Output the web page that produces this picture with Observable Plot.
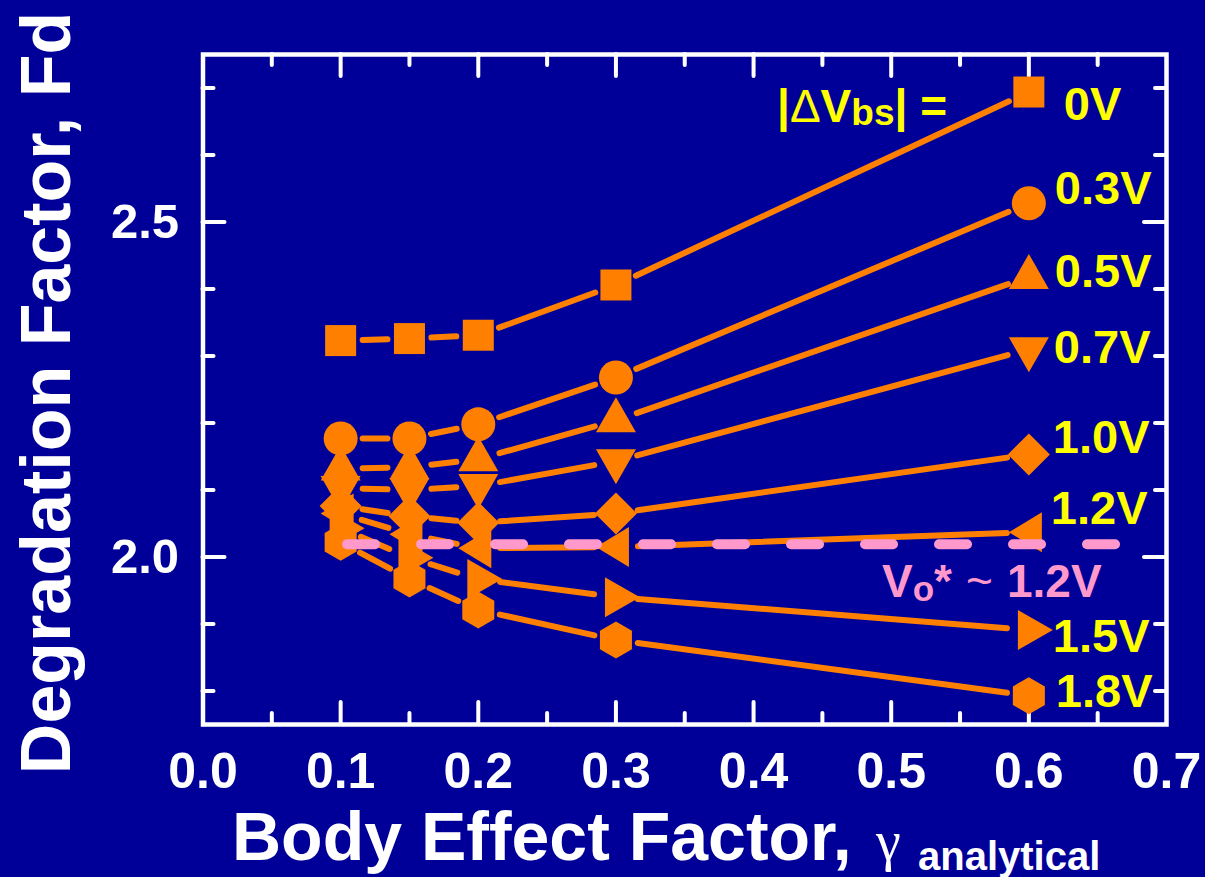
<!DOCTYPE html>
<html><head><meta charset="utf-8">
<script src="https://cdn.jsdelivr.net/npm/d3@7"></script>
<script src="https://cdn.jsdelivr.net/npm/@observablehq/plot@0.6"></script>
<style>
html,body{margin:0;padding:0;background:#000099;}
#chart{width:1205px;height:877px;}
</style>
</head><body><div id="chart"></div>
<script>
// ---------- data ----------
const gammaValues = [0.1, 0.15, 0.2, 0.3, 0.6];
const biasLabels = ["0V", "0.3V", "0.5V", "0.7V", "1.0V", "1.2V", "1.5V", "1.8V"];
const fd_0V  = [2.323, 2.326, 2.331, 2.406, 2.694];
const fd_03V = [2.177, 2.177, 2.198, 2.268, 2.528];
const fd_05V = [2.132, 2.134, 2.146, 2.204, 2.418];
const fd_07V = [2.103, 2.100, 2.106, 2.143, 2.310];
const fd_10V = [2.076, 2.061, 2.051, 2.065, 2.153];
const fd_12V = [2.065, 2.034, 2.013, 2.015, 2.037];
const fd_15V = [2.043, 1.999, 1.967, 1.940, 1.891];
const fd_18V = [2.022, 1.967, 1.921, 1.876, 1.793];
const labelFd = [2.674, 2.549, 2.426, 2.312, 2.177, 2.071, 1.881, 1.799];
const vStarFd = 2.019;
const vStarGammaRange = [0.105, 0.663];
const xTickValues = [0.0, 0.1, 0.2, 0.3, 0.4, 0.5, 0.6, 0.7];
const xMajorTicks = [0.1, 0.2, 0.3, 0.4, 0.5, 0.6];
const xMinorTicks = [0.05, 0.15, 0.25, 0.35, 0.45, 0.55, 0.65];
const yTickValues = [2.0, 2.5];
const yMinorTicks = [1.8, 1.9, 2.1, 2.2, 2.3, 2.4, 2.6, 2.7];

// ---------- styles ----------
const ORANGE = "#FF8000", YELLOW = "#FFFF00", PINK = "#FF99CC", BG = "#000099";
const FONT = "'Liberation Sans', Arial, Helvetica, sans-serif";

const poly = (pts) => ({draw(ctx) {
  ctx.moveTo(pts[0][0], pts[0][1]);
  for (let i = 1; i < pts.length; i++) ctx.lineTo(pts[i][0], pts[i][1]);
  ctx.closePath();
}});
const symSquare = poly([[-15.5,-15.5],[15.5,-15.5],[15.5,15.5],[-15.5,15.5]]);
const symCircle = {draw(ctx) { ctx.moveTo(17, 0); ctx.arc(0, 0, 17, 0, 2 * Math.PI); ctx.closePath(); }};
const symTriUp = poly([[0,-23],[20,12],[-20,12]]);
const symTriDown = poly([[0,23],[20,-12],[-20,-12]]);
const symDiamond = poly([[0,-21],[21,0],[0,21],[-21,0]]);
const symTriLeft = poly([[-20,0],[13,-20],[13,20]]);
const symTriRight = poly([[24,0],[-11,-20],[-11,20]]);
const symHexagon = poly([[0,-18.5],[16,-9.25],[16,9.25],[0,18.5],[-16,9.25],[-16,-9.25]]);

const seriesValues = [fd_0V, fd_03V, fd_05V, fd_07V, fd_10V, fd_12V, fd_15V, fd_18V];
const seriesSymbols = [symSquare, symCircle, symTriUp, symTriDown, symDiamond, symTriLeft, symTriRight, symHexagon];
const labelDx = [35, 26, 26, 25, 24, 22, 24, 27];

const series = biasLabels.map((label, i) => ({
  label, symbol: seriesSymbols[i],
  points: gammaValues.map((g, j) => ({gamma: g, fd: seriesValues[i][j]}))
}));
const segments = series.flatMap(s => s.points.slice(0, -1).map((p, j) => ({
  x1: p.gamma, y1: p.fd, x2: s.points[j + 1].gamma, y2: s.points[j + 1].fd
})));
const labels = biasLabels.map((label, i) => ({label, gamma: gammaValues[gammaValues.length - 1], fd: labelFd[i], dx: labelDx[i]}));

const W = 1205, H = 877;
const mL = 202.5, mR = 39, mT = 54, mB = 153;
const innerW = W - mL - mR, innerH = H - mT - mB;
const MAJ = 22, MIN = 11;

const tickStyle = {stroke: "white", strokeWidth: 4, strokeLinecap: "round"};

const marks = [
  // inward ticks
  Plot.tickX(xMajorTicks, {x: d => d, insetTop: innerH - MAJ, ...tickStyle}),
  Plot.tickX(xMinorTicks, {x: d => d, insetTop: innerH - MIN, ...tickStyle}),
  Plot.tickX(xMajorTicks, {x: d => d, insetBottom: innerH - MAJ, ...tickStyle}),
  Plot.tickX(xMinorTicks, {x: d => d, insetBottom: innerH - MIN, ...tickStyle}),
  Plot.tickY(yTickValues, {y: d => d, insetRight: innerW - MAJ, ...tickStyle}),
  Plot.tickY(yMinorTicks, {y: d => d, insetRight: innerW - MIN, ...tickStyle}),
  Plot.tickY(yTickValues, {y: d => d, insetLeft: innerW - MAJ, ...tickStyle}),
  Plot.tickY(yMinorTicks, {y: d => d, insetLeft: innerW - MIN, ...tickStyle}),
  Plot.frame({stroke: "white", strokeWidth: 4.5}),
  // tick labels
  Plot.axisX(xTickValues, {anchor: "bottom", tickSize: 0, tickPadding: 28, tickFormat: d3.format(".1f"),
    fontSize: 50, fontWeight: "bold", fill: "white", label: null}),
  Plot.axisY(yTickValues, {anchor: "left", tickSize: 0, tickPadding: 24, tickFormat: d3.format(".1f"),
    fontSize: 49, fontWeight: "bold", fill: "white", label: null}),
  // connecting segments (gapped)
  Plot.arrow(segments, {x1: "x1", y1: "y1", x2: "x2", y2: "y2", stroke: ORANGE, strokeWidth: 6,
    headLength: 0, insetStart: 22, insetEnd: 22, strokeLinecap: "round"}),
  // markers (last series first so upper series sit on top)
  ...series.slice().reverse().map(s => Plot.dot(s.points, {x: "gamma", y: "fd", r: 10, symbol: s.symbol, fill: ORANGE, stroke: "none"})),
  // V* threshold
  Plot.ruleY([vStarFd], {y: d => d, x1: vStarGammaRange[0], x2: vStarGammaRange[1], stroke: PINK, strokeWidth: 10,
    strokeDasharray: "28,46", strokeLinecap: "round"})
];
// series labels
for (const l of labels) {
  marks.push(Plot.text([l], {x: "gamma", y: "fd", text: "label", dx: l.dx, textAnchor: "start", fill: YELLOW,
    fontSize: 47, fontWeight: "bold"}));
}

const plot = Plot.plot({
  width: W, height: H,
  marginLeft: mL, marginRight: mR, marginTop: mT, marginBottom: mB,
  x: {domain: [0, 0.7]},
  y: {domain: [1.75, 2.75]},
  style: {background: BG, color: "white", fontFamily: FONT, overflow: "visible"},
  marks
});
document.getElementById("chart").appendChild(plot);

// ---------- rich-text annotations ----------
const svg = d3.select(plot);
// x-axis title
const xt = svg.append("text").attr("x", 232).attr("y", 860).attr("fill", "white")
  .style("font-family", FONT).attr("text-anchor", "start");
xt.append("tspan").style("font-size", "68px").style("font-weight", "bold").text("Body Effect Factor,");
xt.append("tspan").attr("x", 876).style("font-size", "56px").style("font-family", "'Liberation Serif', 'DejaVu Serif', serif").text("γ");
xt.append("tspan").attr("x", 918).attr("y", 870).style("font-size", "40px").style("font-weight", "bold").text("analytical");

// y-axis title
svg.append("text").attr("transform", "translate(70,393) rotate(-90)").attr("text-anchor", "middle")
  .attr("fill", "white").style("font-family", FONT).style("font-size", "70px").style("font-weight", "bold")
  .text("Degradation Factor, Fd");

// legend title |ΔVbs| =
const lt = svg.append("text").attr("x", 777).attr("y", 122).attr("fill", YELLOW).attr("text-anchor", "start")
  .style("font-family", FONT).style("font-size", "46px").style("font-weight", "bold");
lt.append("tspan").text("|");
lt.append("tspan").style("font-weight", "normal").text("Δ");
lt.append("tspan").text("V");
lt.append("tspan").attr("dy", 3).style("font-size", "37px").text("bs");
lt.append("tspan").attr("dy", -3).text("| =");

// V* label
const vt = svg.append("text").attr("x", 882).attr("y", 597).attr("fill", PINK).attr("text-anchor", "start")
  .style("font-family", FONT).style("font-size", "46px").style("font-weight", "bold");
vt.append("tspan").text("V");
vt.append("tspan").attr("dy", 4).style("font-size", "35px").text("o");
vt.append("tspan").attr("dy", -4).text("*");
vt.append("tspan").attr("x", 966).style("font-weight", "normal").text("~");
vt.append("tspan").attr("x", 1007).text("1.2V");
</script></body></html>
